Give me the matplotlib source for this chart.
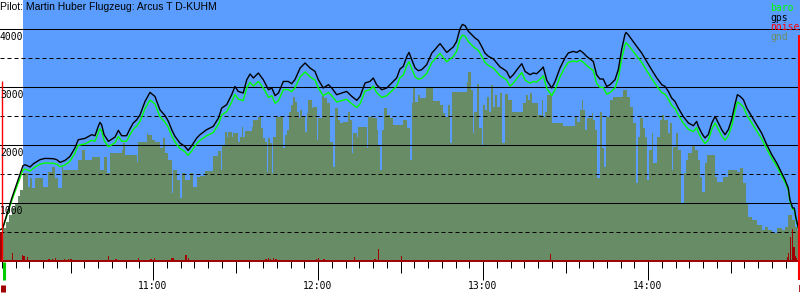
import matplotlib
matplotlib.use("Agg")
import matplotlib.pyplot as plt

# times are minutes after 10:00, heights in m
gps_t = [4.4, 5.3, 8.7, 12.7,
         13.5, 15.3, 16.5, 18.9, 20.7, 23.7, 25.0, 26.2, 28.0, 29.8,
         31.6, 32.8, 35.3, 37.7, 38.9, 40.1, 40.7, 41.3, 42.2, 43.8,
         46.2, 47.4, 48.6, 50.4, 51.6, 52.8, 54.1, 55.3, 57.1, 58.9,
         60.7, 62.5, 64.4, 65.6, 66.8, 68.0, 69.8, 71.6, 72.8, 74.1,
         75.9, 77.1,
         79.5, 81.9, 83.8, 85.0, 86.8, 88.6, 89.8, 91.0, 92.8, 94.1,
         95.3, 96.5, 98.3, 100.1, 102.0, 103.2, 104.4, 105.6, 107.4, 109.2,
         110.4, 111.6, 113.5, 115.3, 117.1, 118.9, 120.1, 121.9, 123.8, 125.0,
         126.8, 128.6, 130.4, 132.3, 134.1, 135.3, 137.1, 138.9, 140.1, 141.3,
         143.2, 145.0, 146.8, 148.6, 149.8,
         151.0, 152.3, 153.1, 154.1, 155.3, 156.5, 157.7, 159.5, 161.4, 162.5,
         163.7, 164.4, 165.6, 166.8, 168.0, 169.2, 170.4, 171.6, 172.5, 173.5,
         174.7, 175.9, 177.1, 178.3, 179.5, 180.7, 182.0, 183.8, 185.0, 186.2,
         187.4, 188.6, 189.8, 191.0, 192.8, 194.1, 195.3, 197.1, 198.3, 199.5,
         201.3, 201.9, 203.2, 205.0, 206.2, 208.0, 209.8, 211.0, 212.8, 214.1,
         215.3, 216.5, 217.7, 218.9, 220.1, 221.3, 222.5,
         223.7, 225.0, 226.2, 228.0, 229.2, 230.4, 231.6, 232.0, 232.8, 234.1,
         235.9, 237.7, 239.5, 241.3, 243.2, 245.0, 246.2, 247.4, 248.6, 249.8,
         251.0, 252.8, 254.7, 256.5, 257.7, 258.3, 259.5, 260.7, 261.9, 263.2,
         264.4, 265.6, 266.8, 268.0, 269.2, 270.4, 271.6, 272.5, 273.5, 274.7,
         275.9, 277.7, 279.5, 281.3, 283.2, 285.0, 286.8, 288.6, 289.8, 291.0,
         291.6, 292.6, 293.2, 293.8, 294.7]
gps_alt = [540, 557, 1091, 1643,
           1660, 1621, 1677, 1747, 1769, 1764, 1747, 1700, 1734, 1803,
           1948, 2091, 2114, 2178, 2160, 2321, 2390, 2350, 2178, 2062,
           2138, 2252, 2160, 2160, 2276, 2379, 2436, 2522, 2752, 2907,
           2838, 2609, 2505, 2407, 2264, 2148, 2034, 1976, 1907, 1988,
           2121, 2178,
           2264, 2321, 2465, 2638, 2695, 2867, 3010, 2924, 2896, 3126,
           3224, 3155, 3241, 3126, 2953, 2983, 2850, 2896, 3096, 3096,
           3057, 3126, 3327, 3414, 3327, 3269, 3126, 2983, 3040, 2983,
           2867, 2896, 2924, 2838, 2769, 2838, 3069, 3096, 3155, 3040,
           2953, 2983, 3069, 3155, 3310,
           3355, 3527, 3596, 3471, 3327, 3281, 3298, 3384, 3586, 3643,
           3712, 3747, 3672, 3596, 3643, 3690, 3786, 4000, 4079, 4057,
           3959, 3902, 3845, 3803, 3700, 3586, 3527, 3483, 3414, 3345,
           3310, 3269, 3155, 3212, 3327, 3402, 3269, 3212, 3241, 3229,
           3310, 3345, 3114, 2983, 3096, 3327, 3500, 3586, 3614, 3596,
           3631, 3586, 3527, 3483, 3441, 3212, 3138,
           3138, 3010, 3040, 3126, 3298, 3643, 3902, 3941, 3902, 3816,
           3700, 3586, 3441, 3298, 3155, 3040, 3010, 2924, 2810, 2752,
           2638, 2493, 2379, 2333, 2407, 2321, 2207, 2121, 2178, 2379,
           2493, 2379, 2264, 2178, 2264, 2436, 2695, 2867, 2838, 2781,
           2638, 2493, 2350, 2207, 2005, 1833, 1690, 1517, 1402, 1259,
           1057, 914, 914, 741, 569]
baro_alt = [540, 557, 1050, 1570,
            1585, 1550, 1600, 1670, 1690, 1685, 1670, 1625, 1655, 1720,
            1860, 1995, 2020, 2080, 2065, 2215, 2280, 2245, 2080, 1970,
            2040, 2150, 2065, 2065, 2175, 2270, 2325, 2410, 2630, 2775,
            2710, 2490, 2390, 2300, 2160, 2050, 1940, 1885, 1820, 1900,
            2025, 2080,
            2160, 2215, 2355, 2520, 2575, 2740, 2875, 2790, 2765, 2985,
            3080, 3015, 3095, 2985, 2820, 2850, 2720, 2765, 2955, 2955,
            2920, 2985, 3175, 3260, 3175, 3120, 2985, 2850, 2905, 2850,
            2740, 2765, 2790, 2710, 2645, 2710, 2930, 2955, 3015, 2905,
            2820, 2850, 2930, 3015, 3160,
            3205, 3370, 3435, 3315, 3175, 3135, 3150, 3230, 3425, 3480,
            3545, 3580, 3505, 3435, 3480, 3525, 3615, 3820, 3895, 3875,
            3780, 3725, 3670, 3630, 3535, 3425, 3370, 3325, 3260, 3195,
            3160, 3120, 3015, 3065, 3175, 3250, 3120, 3065, 3095, 3085,
            3160, 3195, 2975, 2850, 2955, 3175, 3340, 3425, 3450, 3435,
            3465, 3425, 3370, 3325, 3285, 3065, 2995,
            2995, 2875, 2905, 2985, 3150, 3480, 3725, 3765, 3725, 3645,
            3535, 3425, 3285, 3150, 3015, 2905, 2875, 2790, 2685, 2630,
            2520, 2380, 2270, 2230, 2300, 2215, 2110, 2025, 2080, 2270,
            2380, 2270, 2160, 2080, 2160, 2325, 2575, 2740, 2710, 2655,
            2520, 2380, 2245, 2110, 1930, 1770, 1635, 1470, 1360, 1225,
            1030, 890, 890, 725, 560]

gnd_t = [5.5, 6.5, 7.6, 8.7, 9.8, 10.9, 11.6, 12.8, 14.7, 15.3, 15.9, 17.1, 20.1, 21.9,
         23.2, 24.4, 25.6, 26.8, 27.4, 32.8, 34.1, 35.3, 37.7, 40.7, 42.0, 43.2, 44.4,
         48.6, 49.2, 49.8, 54.1, 54.7, 57.7, 58.3, 59.5, 60.7, 62.5, 63.8, 64.4, 65.6,
         66.8, 67.4, 68.6, 69.8, 70.4, 71.6, 73.5, 74.7, 75.9,
         77.1, 78.9, 81.9, 83.7, 84.6, 85.2, 86.2, 86.8, 87.4, 88.6, 89.2, 91.0, 91.6,
         92.3, 92.8, 93.5, 95.9, 96.5, 98.3, 99.2, 100.1, 100.7, 101.3, 101.9, 102.5,
         103.2, 103.7, 104.7, 107.4, 108.0, 108.8, 109.6, 110.1, 110.8, 111.6, 112.5,
         113.0, 113.5, 114.1, 115.3, 115.9, 116.5, 117.7, 118.3, 119.5, 120.1, 121.3,
         122.2, 123.2, 124.4, 125.6, 126.2, 127.4, 128.0, 129.2, 131.0, 131.6, 132.3,
         132.8, 134.1, 134.7, 137.7, 138.3, 140.1, 141.3, 141.9, 142.5, 143.2, 144.1,
         145.0, 146.2, 147.4,
         149.8, 151.0, 152.3, 153.5, 154.1, 154.7, 155.3, 156.5, 157.1, 159.3, 161.7,
         164.4, 165.3, 166.2, 167.4, 168.0, 168.8, 174.1, 174.7, 175.5, 176.2, 176.7,
         177.7, 178.6, 179.5, 180.1, 180.7, 181.6, 182.3, 182.8, 183.5, 184.4, 185.2,
         186.2, 186.8, 188.0, 189.2, 190.4, 194.7, 195.6, 196.5, 197.1, 197.7, 200.1,
         201.3, 201.9, 202.5, 203.2, 205.0, 209.2, 213.4, 214.1, 215.3, 215.9, 216.5,
         217.1, 217.7, 219.5, 220.1, 220.7, 221.6,
         222.5, 223.2, 224.0, 224.7, 226.2, 227.4, 231.0, 232.5, 233.5, 234.7, 235.6,
         236.5, 237.1, 238.3, 238.9, 239.5, 240.5, 241.3, 241.9, 243.2, 244.4, 245.0,
         245.8, 247.4, 248.0, 248.6, 249.2, 250.2, 251.0, 251.9, 253.1, 253.8, 254.7,
         255.9, 257.1, 258.3, 258.9, 259.5, 260.7, 261.3, 264.4, 265.0, 267.4, 269.2,
         272.2, 273.5, 274.7, 275.5, 276.5, 277.7, 279.5, 281.3, 282.5, 283.8, 285.0,
         286.8, 288.6, 289.8, 291.0, 292.2, 293.4, 294.0, 295.3]
gnd_alt = [570, 680, 800, 920, 1005, 1125, 1230, 1522, 1281, 1436, 1264, 1436, 1281, 1540,
           1626, 1436, 1264, 1626, 1574, 1747, 1919, 1747, 1798, 1574, 1798, 1522, 1867,
           1919, 2040, 1833, 1712, 2057, 2212, 2177, 2091, 2057, 1953, 2126, 1867, 1747,
           1178, 1574, 1402, 1091, 1522, 1402, 1522, 1281, 1453,
           1470, 1557, 1815, 1902, 1574, 2005, 2229, 2143, 2229, 2143, 2212, 2057, 2143,
           2315, 2143, 2246, 2315, 2436, 2488, 2298, 2126, 2057, 1540, 2126, 2040,
           1522, 2143, 2488, 1953, 2177, 2264, 2574, 2695, 2833, 2746, 2574,
           2470, 2608, 2488, 2229, 2555, 2781, 2643, 2660, 2091, 2470, 2850,
           2815, 2729, 2057, 1626, 2643, 2436, 2384, 2401, 2574, 2436, 1867,
           2212, 2143, 2315, 1953, 2488, 2470, 2264, 2005, 1574, 2264, 2643,
           2522, 2470, 2350,
           2350, 2436, 2298, 1747, 2729, 2988, 2746, 2867, 2815, 2988, 2764,
           2695, 2557, 2488, 2695, 2040, 2919, 3091, 3263, 2953, 2212, 2574,
           3056, 2298, 2005, 2695, 2608, 2833, 2574, 3039, 2660, 2867, 2660,
           2901, 2040, 2884, 2781, 2574, 2729, 2867, 2781, 2901, 2729, 2522,
           2781, 2488, 2574, 2867, 2384, 2333, 2488, 2401, 2608, 2781, 2608,
           2264, 2470, 2555, 2436, 2264, 1436,
           2574, 1953, 1626, 2488, 2781, 2833, 2953, 2833, 2660, 2384, 1350,
           2143, 2470, 2298, 2143, 1402, 1919, 2212, 1695, 2143, 2436, 2522,
           2436, 2212, 2384, 1574, 1970, 2212, 1919, 1005, 1522, 1747, 1867,
           2005, 1919, 1747, 1453, 1195, 1695, 1833, 1453, 1367, 1453, 1574,
           1540, 1609, 1350, 1005, 764, 712, 626, 540, 591, 540, 488,
           574, 540, 591, 798, 712, 591, 540, 540]

noise_t = [4.5, 4.9, 5.4, 8.8, 12.5, 13.1, 14.3, 22.2, 22.9, 23.5,
           24.6, 27.8, 29.2, 30.2, 43.7, 46.5, 50.2, 54.7, 59.3, 60.5,
           66.7, 67.3, 72.0, 72.8, 89.0, 97.3, 101.1, 101.9, 102.8, 103.7,
           104.7, 110.2, 116.1, 119.5, 120.1, 122.2, 126.2, 133.2, 140.7, 141.9,
           150.4, 153.2, 204.6, 276.5, 290.9, 291.2, 291.9, 292.6, 293.1, 293.5,
           293.8]
noise_v = [500, 480, 300, 140, 100, 85, 70, 35, 25, 35,
           45, 35, 35, 35, 90, 35, 20, 50, 35, 50,
           50, 50, 100, 50, 20, 20, 35, 50, 35, 50,
           35, 20, 20, 35, 50, 35, 25, 70, 35, 200,
           90, 20, 120, 20, 70, 140, 410, 550, 240, 85,
           50]

hour_ticks = [60, 120, 180, 240]
hour_labels = ['11:00', '12:00', '13:00', '14:00']
half_ticks = [30, 90, 150, 210, 270]
alt_lines = [1000, 2000, 3000, 4000]
dash_lines = [500, 1500, 2500, 3500]
title = 'Pilot: Martin Huber Flugzeug: Arcus T D-KUHM'
legend_names = ['baro', 'gps', 'noise', 'gnd']

t_min, t_max = 4.36, 295.27
sky_start = 12.6
takeoff_t = 5.2
tow_t = 5.9
landing_t = 295.0
takeoff_mark = 3100
landing_mark = 3900

SKY = '#5a9dff'
GND = '#678c66'
NOISE = '#a00000'
BARO = '#00ff00'
MONO = 'DejaVu Sans Mono'

fig = plt.figure(figsize=(8, 3), dpi=100)
ax = fig.add_axes([0, 39 / 300, 1, 261 / 300])
ax.set_xlim(t_min, t_max)
ax.set_ylim(0, 4500)
for s in ax.spines.values():
    s.set_visible(False)

ax.axvspan(sky_start, t_max, color=SKY, lw=0, zorder=0)
ax.fill_between(gnd_t, gnd_alt, step='post', color=GND, lw=0, zorder=1)

for v in alt_lines:
    ax.axhline(v, color='black', lw=0.75, zorder=2)
for v in dash_lines:
    ax.axhline(v, color='black', lw=0.72, ls=(0, (4, 3)), zorder=2)

ax.bar(noise_t, noise_v, width=0.45, color=NOISE, lw=0, zorder=3)
ax.axhline(0, color=NOISE, lw=1.4, zorder=3, clip_on=False)

ax.plot(gps_t, baro_alt, color=BARO, lw=1.0, zorder=4)
ax.plot(gps_t, gps_alt, color='black', lw=1.0, zorder=5)

# take-off / landing marks
ax.vlines(takeoff_t, 0, takeoff_mark, color='red', lw=1.0, zorder=6)
ax.vlines(landing_t, -325, landing_mark, color='red', lw=1.5, zorder=6, clip_on=False)
ax.vlines(tow_t, -320, -25, color='#00cc00', lw=2.2, clip_on=False)
ax.vlines(takeoff_t + 0.1, -530, -410, color=NOISE, lw=3.6, clip_on=False)
ax.vlines(landing_t + 0.1, -530, -410, color=NOISE, lw=1.2, clip_on=False)

# time axis: hours, half hours, 5 minutes
ax.set_xticks(hour_ticks, hour_labels)
ax.set_xticks(range(5, 296, 5), minor=True)
ax.tick_params(axis='x', which='major', length=13.7, width=0.72, pad=1, labelsize=7)
ax.tick_params(axis='x', which='minor', length=5, width=0.72)
for lab in ax.get_xticklabels():
    lab.set_fontfamily(MONO)
ax.set_yticks([])
sec = ax.secondary_xaxis('bottom')
sec.set_xticks(half_ticks)
sec.tick_params(length=8.6, width=0.72, labelbottom=False)
sec.spines['bottom'].set_visible(False)

for v in alt_lines:
    ax.annotate(str(v), xy=(0, v), xycoords=('axes fraction', 'data'),
                xytext=(0, -3), textcoords='offset pixels', ha='left', va='top',
                fontsize=7, family=MONO, zorder=7)

fig.text(0.0, 1 - 2 / 300, title, ha='left', va='top', fontsize=7.5,
         family='Liberation Sans')
leg_colors = [BARO, 'black', 'red', '#6b8e63']
for i, (name, c) in enumerate(zip(legend_names, leg_colors)):
    fig.text(770 / 800, 1 - (11 + 9.7 * i) / 300, name, color=c, ha='left',
             va='baseline', fontsize=7, family=MONO)

fig.savefig('out.png', dpi=100)
